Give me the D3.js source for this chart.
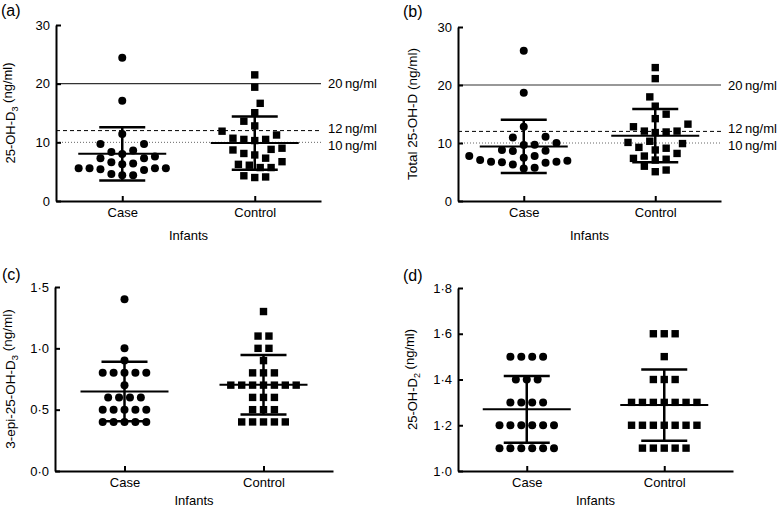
<!DOCTYPE html>
<html>
<head>
<meta charset="utf-8">
<script src="https://cdn.jsdelivr.net/npm/d3@7"></script>
<style>
  body { margin: 0; background: #fff; }
  text { font-family: "Liberation Sans", Arial, Helvetica, sans-serif; fill: #000; }
</style>
</head>
<body>
<svg id="chart" width="780" height="510"></svg>
<script>
// ---------- data ----------
const categories = ["Case", "Control"];

// (a) 25-OH-D3 (ng/ml)
const d3Case = [24.4, 17.1, 11.4, 9.7, 9.7, 8.35, 8.6, 8.0, 7.6, 7.3, 7.3, 6.6, 6.4, 6.25,
                5.6, 5.6, 5.4, 5.6, 5.6, 5.3, 4.6, 4.4, 4.4];
const d3Control = [21.5, 19.4, 16.65, 15.05, 13.6, 12.8, 11.9, 11.25, 10.7, 10.5, 10.3, 10.5,
                   8.8, 8.1, 8.7, 9.0, 7.85, 7.3, 5.7, 6.25, 6.1, 6.7, 5.7, 4.3, 4.0, 4.1];

// (b) Total 25-OH-D (ng/ml)
const totalCase = [25.9, 18.65, 12.8, 11.07, 10.96, 10.0, 9.64, 9.7, 8.78, 8.6, 8.66, 7.75,
                   7.46, 7.75, 7.06, 6.77, 6.66, 6.3, 6.6, 6.77, 6.94, 5.62, 5.74];
const totalControl = [23.0, 21.1, 17.95, 16.35, 14.97, 14.2, 13.25, 12.8, 12.05, 11.9, 11.8, 12.05,
                      10.3, 9.9, 10.1, 9.1, 9.25, 8.8, 8.2, 7.35, 7.2, 7.75, 6.0, 7.06, 5.05, 5.34];

// (c) 3-epi-25-OH-D3 (ng/ml)
const epiCase = [1.4, 1.0, 0.9, 0.8, 0.8, 0.8, 0.8, 0.8, 0.7, 0.6, 0.6, 0.6, 0.6,
                 0.5, 0.5, 0.5, 0.5, 0.5, 0.4, 0.4, 0.4, 0.4, 0.4];
const epiControl = [1.3, 1.1, 1.1, 1.0, 1.0, 0.9, 0.8, 0.8, 0.8, 0.7, 0.7, 0.7, 0.7, 0.7, 0.7, 0.7,
                    0.6, 0.6, 0.6, 0.5, 0.5, 0.5, 0.4, 0.4, 0.4, 0.4, 0.4];

// (d) 25-OH-D2 (ng/ml)
const d2Case = [1.5, 1.5, 1.5, 1.5, 1.4, 1.4, 1.4, 1.3, 1.3, 1.3, 1.3,
                1.2, 1.2, 1.2, 1.2, 1.2, 1.2, 1.1, 1.1, 1.1, 1.1, 1.1, 1.1];
const d2Control = [1.6, 1.6, 1.6, 1.5, 1.4, 1.4, 1.4, 1.3, 1.3, 1.3, 1.3, 1.3, 1.3, 1.3,
                   1.2, 1.2, 1.2, 1.2, 1.2, 1.2, 1.2, 1.1, 1.1, 1.1, 1.1, 1.1];

// tick values
const ticksNgml = [0, 10, 20, 30];
const ticksEpi = [0, 0.5, 1.0, 1.5];
const ticksD2 = [1.0, 1.2, 1.4, 1.6, 1.8];

// reference thresholds
const refValues = [20, 12, 10];
const refLabels = ["20\u2009ng/ml", "12\u2009ng/ml", "10\u2009ng/ml"];

const xTitle = "Infants";

// ---------- layout ----------
const dotFmt = d => d3.format(".1f")(d).replace(".", "\u00b7");
const panels = [
  { tag: "(a)", tx: 1, ty: 16, x0: 56, x1: 321, yTop: 25, yBot: 201, domain: [0, 30],
    ticks: ticksNgml, fmt: d3.format("d"), series: [d3Case, d3Control], refs: true,
    ylab: [["25-OH-D", false], ["3", true], ["\u00a0(ng/ml)", false]], ylx: 15, ylfs: 13 },
  { tag: "(b)", tx: 403, ty: 17, x0: 458, x1: 721, yTop: 27, yBot: 201, domain: [0, 30],
    ticks: ticksNgml, fmt: d3.format("d"), series: [totalCase, totalControl], refs: true,
    ylab: [["Total 25-OH-D (ng/ml)", false]], ylx: 417, ylfs: 13.5 },
  { tag: "(c)", tx: 2, ty: 280, x0: 55, x1: 333, yTop: 287, yBot: 471, domain: [0, 1.5],
    ticks: ticksEpi, fmt: dotFmt, series: [epiCase, epiControl], refs: false,
    ylab: [["3-epi-25-OH-D", false], ["3", true], ["\u00a0(ng/ml)", false]], ylx: 15, ylfs: 13.5 },
  { tag: "(d)", tx: 403, ty: 281, x0: 458, x1: 733, yTop: 288, yBot: 471, domain: [1.0, 1.8],
    ticks: ticksD2, fmt: dotFmt, series: [d2Case, d2Control], refs: false,
    ylab: [["25-OH-D", false], ["2", true], ["\u00a0(ng/ml)", false]], ylx: 417, ylfs: 13 }
];

const svg = d3.select("#chart");

// beeswarm placement computed from the values
function swarm(values, y, cx, step, minD) {
  const order = d3.range(values.length).sort((a, b) => values[a] - values[b]);
  const placed = [];
  let nPos = 0, nNeg = 0;
  for (const i of order) {
    const py = y(values[i]);
    let chosen = null;
    for (let k = 0; k < 400 && !chosen; k++) {
      const cands = k === 0 ? [0] : (nPos <= nNeg ? [k, -k] : [-k, k]);
      for (const c of cands) {
        const px = cx + c * step / 2;
        if (placed.every(p => Math.hypot(p.px - px, p.py - py) >= minD)) {
          chosen = { px, py, v: values[i], k: c };
          break;
        }
      }
    }
    if (chosen.k > 0) nPos++; else if (chosen.k < 0) nNeg++;
    placed.push(chosen);
  }
  // centre rows of identical values
  const byVal = d3.group(placed, p => p.v);
  for (const [v, g] of byVal) {
    if (g.length < 2) continue;
    const shift = cx - d3.mean(g, p => p.px);
    const others = placed.filter(p => p.v !== v);
    const ok = g.every(p => others.every(o => Math.hypot(o.px - (p.px + shift), o.py - p.py) >= minD));
    if (ok) g.forEach(p => p.px += shift);
  }
  return placed;
}

panels.forEach(P => {
  const g = svg.append("g");
  const x = d3.scalePoint().domain(categories).range([P.x0, P.x1]).padding(0.5);
  const y = d3.scaleLinear().domain(P.domain).range([P.yBot, P.yTop]);

  // panel tag
  g.append("text").attr("x", P.tx).attr("y", P.ty).attr("font-size", 16).text(P.tag);

  // reference lines
  if (P.refs) {
    const styles = [
      { stroke: "#333", dash: null, w: 1.2 },
      { stroke: "#000", dash: "4,3", w: 1 },
      { stroke: "#666", dash: "1,2", w: 1 }
    ];
    refValues.forEach((v, i) => {
      g.append("line").attr("x1", P.x0).attr("x2", P.x1)
        .attr("y1", y(v)).attr("y2", y(v))
        .attr("stroke", styles[i].stroke).attr("stroke-width", styles[i].w)
        .attr("stroke-dasharray", styles[i].dash);
    });
    const ly = refValues.map(v => y(v));
    for (let i = 1; i < ly.length; i++) {
      const gap = ly[i] - ly[i - 1];
      if (gap < 17) { const d = (17 - gap) / 2; ly[i - 1] -= d; ly[i] += d; }
    }
    refValues.forEach((v, i) => {
      g.append("text").attr("x", P.x1 + 7).attr("y", ly[i]).attr("dy", "0.35em")
        .attr("font-size", 13).text(refLabels[i]);
    });
  }

  // axes
  const yAxis = d3.axisLeft(y).tickValues(P.ticks).tickFormat(P.fmt)
    .tickSizeInner(-5).tickSizeOuter(0).tickPadding(6);
  const ya = g.append("g").attr("transform", `translate(${P.x0},0)`).call(yAxis);
  const xAxis = d3.axisBottom(x).tickSizeInner(-5).tickSizeOuter(0).tickPadding(7);
  const xa = g.append("g").attr("transform", `translate(0,${P.yBot})`).call(xAxis);
  [ya, xa].forEach(a => {
    a.attr("font-family", null);
    a.select(".domain").attr("stroke", "#000").attr("stroke-width", 2);
    a.selectAll(".tick line").attr("stroke", "#000").attr("stroke-width", 2);
    a.selectAll(".tick text").attr("font-size", 13).attr("fill", "#000");
  });

  // axis titles
  g.append("text").attr("x", (P.x0 + P.x1) / 2).attr("y", Math.min(P.yBot + 39, 505))
    .attr("text-anchor", "middle").attr("font-size", 13).text(xTitle);
  const yl = g.append("text")
    .attr("transform", `translate(${P.ylx},${(P.yTop + P.yBot) / 2}) rotate(-90)`)
    .attr("text-anchor", "middle").attr("font-size", P.ylfs);
  let prevSub = false;
  P.ylab.forEach(([t, sub]) => {
    const ts = yl.append("tspan").text(t);
    if (sub) ts.attr("font-size", P.ylfs * 0.7).attr("dy", "0.35em");
    else if (prevSub) ts.attr("dy", "-0.5em");
    prevSub = sub;
  });

  // points + mean ± SD
  categories.forEach((cat, ci) => {
    const vals = P.series[ci];
    const cx = x(cat);
    const pts = swarm(vals, y, cx, 10.9, 10);
    if (ci === 0) {
      g.append("g").selectAll("circle").data(pts).join("circle")
        .attr("cx", d => d.px).attr("cy", d => d.py).attr("r", 4).attr("fill", "#000");
    } else {
      const s = 7.4;
      g.append("g").selectAll("rect").data(pts).join("rect")
        .attr("x", d => d.px - s / 2).attr("y", d => d.py - s / 2)
        .attr("width", s).attr("height", s).attr("fill", "#000");
    }
    const m = d3.mean(vals), sd = d3.deviation(vals);
    const eb = g.append("g").attr("stroke", "#000");
    eb.append("line").attr("x1", cx).attr("x2", cx).attr("y1", y(m - sd)).attr("y2", y(m + sd)).attr("stroke-width", 2.5);
    eb.append("line").attr("x1", cx - 44).attr("x2", cx + 44).attr("y1", y(m)).attr("y2", y(m)).attr("stroke-width", 2);
    [m - sd, m + sd].forEach(v => {
      eb.append("line").attr("x1", cx - 23).attr("x2", cx + 23).attr("y1", y(v)).attr("y2", y(v)).attr("stroke-width", 2.5);
    });
  });
});
</script>
</body>
</html>
